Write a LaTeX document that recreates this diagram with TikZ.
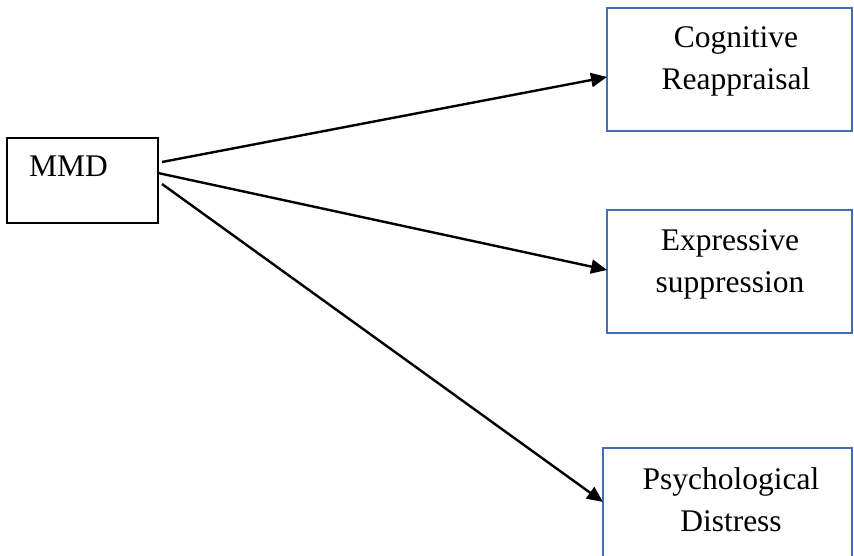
\documentclass[tikz,border=0pt]{standalone}
\usepackage{fontspec}
\setmainfont{Liberation Serif}
\usetikzlibrary{arrows.meta}
\definecolor{boxblue}{RGB}{68,110,180}
\begin{document}
\begin{tikzpicture}[x=1pt,y=-1pt,
  bluebox/.style={draw=boxblue,line width=2.2pt},
  blackbox/.style={draw=black,line width=2.2pt},
  lbl/.style={font=\fontsize{31.5}{42}\selectfont,align=center,anchor=base,inner sep=0pt},
  arr/.style={line width=2.4pt,-{Triangle[length=16pt,width=14pt]}}]
\clip (0,0) rectangle (854,556);
\fill[white] (0,0) rectangle (854,556);
% boxes
\draw[blackbox] (7,138) rectangle (158,223);
\draw[bluebox] (607,8) rectangle (852,131);
\draw[bluebox] (607,210) rectangle (852,333);
\draw[bluebox] (603,448) rectangle (852,580);
% texts
\node[lbl,anchor=base west] (tmmd) at (29,177) {MMD};
\node[lbl] (tcog) at (736,90) {Cognitive\\Reappraisal};
\node[lbl] (texp) at (730,292) {Expressive\\suppression};
\node[lbl] (tpsy) at (731,531) {Psychological\\Distress};
% arrow endpoints
\coordinate (s1) at (162,162);
\coordinate (s2) at (158,173);
\coordinate (s3) at (162,184);
\coordinate (e1) at (607,77);
\coordinate (e2) at (607,270);
\coordinate (e3) at (603,502);
\draw[arr] (s1) -- (e1);
\draw[arr] (s2) -- (e2);
\draw[arr] (s3) -- (e3);
\end{tikzpicture}
\end{document}
